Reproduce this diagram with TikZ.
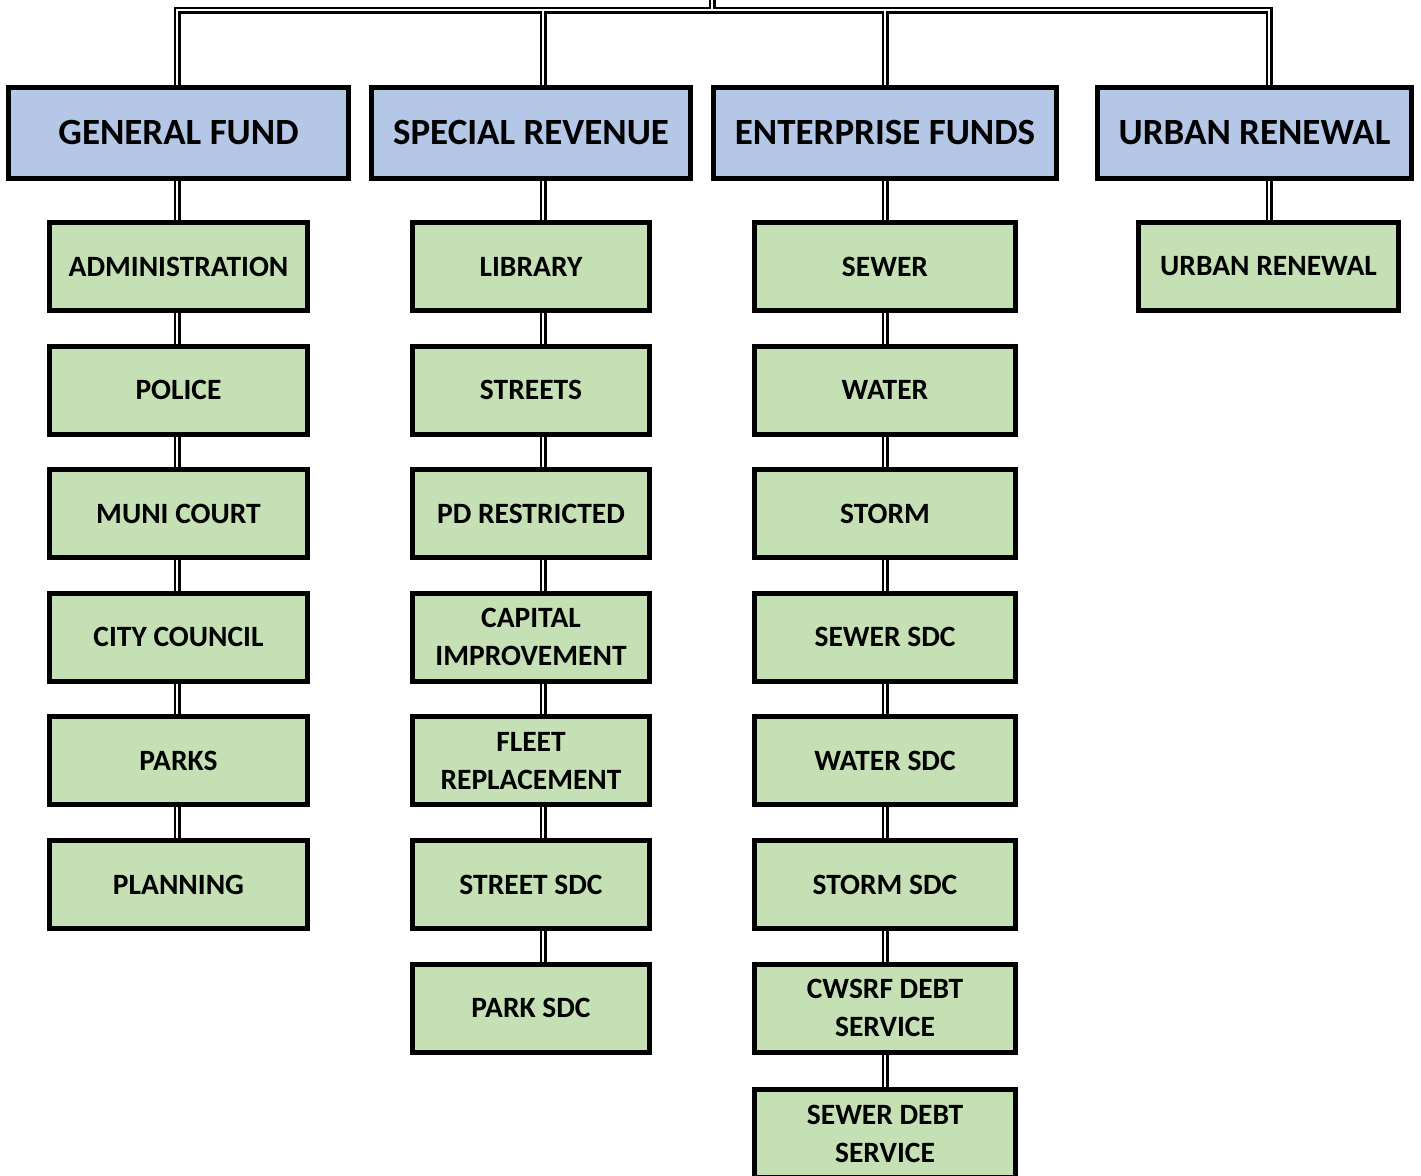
\documentclass[tikz,border=0pt]{standalone}
\usepackage{fontspec}
\setmainfont{Carlito}
\pgfdeclarelayer{bg}
\pgfsetlayers{bg,main}
\definecolor{hdrblue}{HTML}{B4C7E7}
\definecolor{boxgreen}{HTML}{C5E0B4}
\begin{document}
\begin{tikzpicture}[x=1pt,y=-1pt,
  hdr/.style={draw=black, line width=5pt, fill=hdrblue, minimum height=91pt, inner sep=0pt,
    font=\fontsize{37}{40}\selectfont\bfseries, align=center},
  gbox/.style={draw=black, line width=5pt, fill=boxgreen, minimum height=88pt, inner sep=0pt,
    font=\fontsize{29.5}{38}\selectfont\bfseries, align=center},
  blk/.style={line width=7pt, black},
  wht/.style={line width=2.5pt, white}]
\useasboundingbox (0,0) rectangle (1421,1175);
% headers
\node[hdr, minimum width=340pt] (gf) at (178.5,133) {GENERAL FUND};
\node[hdr, minimum width=319pt] (sr) at (531,133) {SPECIAL REVENUE};
\node[hdr, minimum width=343pt] (ef) at (885,133) {ENTERPRISE FUNDS};
\node[hdr, minimum width=314pt] (ur) at (1254.5,133) {URBAN RENEWAL};
% column 1
\foreach \n/\t [count=\i from 0] in {g1/ADMINISTRATION, g2/POLICE, g3/MUNI COURT, g4/CITY COUNCIL, g5/PARKS, g6/PLANNING}
  \node[gbox, minimum width=258pt] (\n) at (178.5,266.5+123.6*\i) {\t};
% column 2
\foreach \n/\t [count=\i from 0] in {s1/LIBRARY, s2/STREETS, s3/PD RESTRICTED, s4/{CAPITAL\\IMPROVEMENT}, s5/{FLEET\\REPLACEMENT}, s6/STREET SDC, s7/PARK SDC}
  \node[gbox, minimum width=237pt] (\n) at (531,266.5+123.6*\i) {\t};
% column 3
\foreach \n/\t [count=\i from 0] in {e1/SEWER, e2/WATER, e3/STORM, e4/SEWER SDC, e5/WATER SDC, e6/STORM SDC, e7/{CWSRF DEBT\\SERVICE}}
  \node[gbox, minimum width=261pt] (\n) at (885,266.5+123.6*\i) {\t};
\node[gbox, minimum width=261pt] (e8) at (885,1133.5) {SEWER DEBT\\SERVICE};
% column 4
\node[gbox, minimum width=260pt] (u1) at (1268.5,266.5) {URBAN RENEWAL};
% connector coordinates
\coordinate (c1) at (177,0);
\coordinate (c2) at (543,0);
\coordinate (c3) at (885,0);
\coordinate (c4) at (1269,0);
\coordinate (top) at (712,-10);
\coordinate (hz) at (712,10);
\begin{pgfonlayer}{bg}
\foreach \s in {blk,wht}{
  \draw[\s] (top) -- (hz);
  \draw[\s] (gf.north -| c1) |- (hz) -| (ur.north -| c4);
  \draw[\s] (sr.north -| c2) -- (c2 |- hz);
  \draw[\s] (ef.north -| c3) -- (c3 |- hz);
  \foreach \a/\b/\c in {gf/g1/c1, g1/g2/c1, g2/g3/c1, g3/g4/c1, g4/g5/c1, g5/g6/c1,
    sr/s1/c2, s1/s2/c2, s2/s3/c2, s3/s4/c2, s4/s5/c2, s5/s6/c2, s6/s7/c2,
    ef/e1/c3, e1/e2/c3, e2/e3/c3, e3/e4/c3, e4/e5/c3, e5/e6/c3, e6/e7/c3, e7/e8/c3,
    ur/u1/c4}
    \draw[\s] (\a.south -| \c) -- (\b.north -| \c);
}
\end{pgfonlayer}
\end{tikzpicture}
\end{document}
